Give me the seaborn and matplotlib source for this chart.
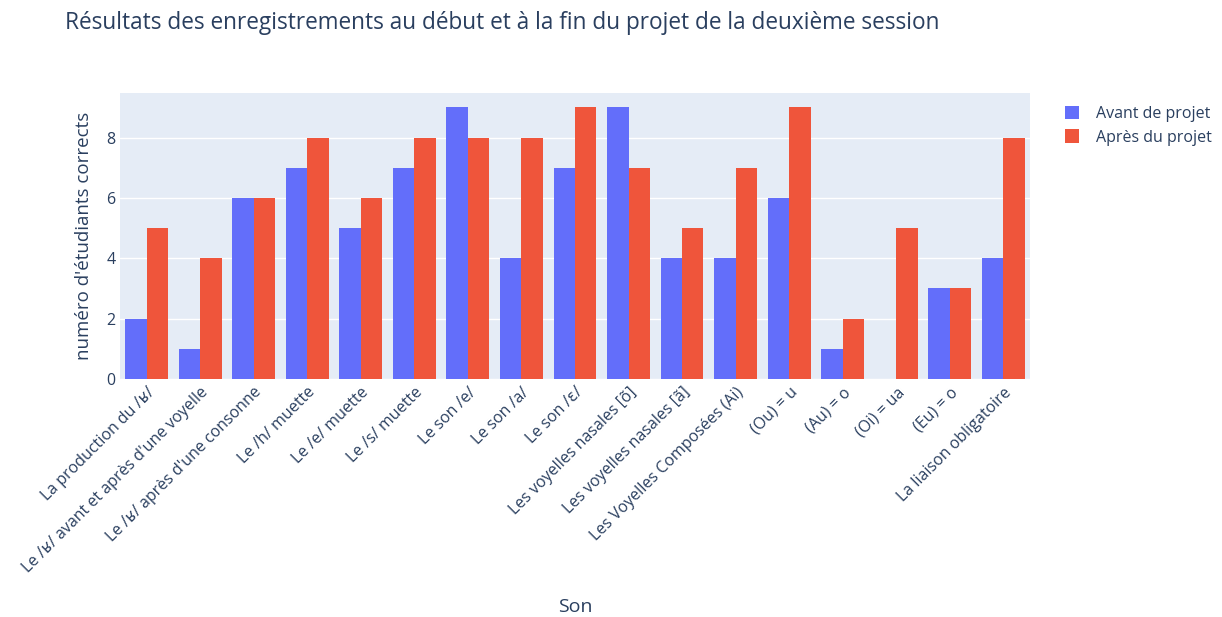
import pandas as pd
import matplotlib
matplotlib.use("Agg")
import matplotlib.pyplot as plt
import seaborn as sns

# Sounds evaluated (x categories)
sons = [
    "La production du /ʁ/",
    "Le /ʁ/ avant et après d'une voyelle",
    "Le /ʁ/ après d'une consonne",
    "Le /h/ muette",
    "Le /e/ muette",
    "Le /s/ muette",
    "Le son /e/",
    "Le son /a/",
    "Le son /ɛ/",
    "Les voyelles nasales [õ]",
    "Les voyelles nasales [ã]",
    "Les Voyelles Composées (Ai)",
    "(Ou) = u",
    "(Au) = o",
    "(Oi) = ua",
    "(Eu) = o",
    "La liaison obligatoire",
]
avant = [2, 1, 6, 7, 5, 7, 9, 4, 7, 9, 4, 4, 6, 1, 0, 3, 4]
apres = [5, 4, 6, 8, 6, 8, 8, 8, 9, 7, 5, 7, 9, 2, 5, 3, 8]
series_names = ["Avant de projet", "Après du projet"]

df = pd.DataFrame({
    "Son": sons * 2,
    "valeur": avant + apres,
    "serie": [series_names[0]] * len(sons) + [series_names[1]] * len(sons),
})

sns.set_theme(style="darkgrid")
text_color = "#2a3f5f"
plt.rcParams["font.family"] = ["Open Sans", "DejaVu Sans"]
plt.rcParams["text.color"] = text_color
plt.rcParams["axes.labelcolor"] = text_color
plt.rcParams["xtick.color"] = text_color
plt.rcParams["ytick.color"] = text_color

fig = plt.figure(figsize=(12.22, 6.17), dpi=100)
ax = fig.add_axes([0.098, 0.386, 0.745, 0.463])
ax.set_facecolor("#E5ECF6")

sns.barplot(data=df, x="Son", y="valeur", hue="serie",
            palette=["#636EFA", "#EF553B"], width=0.8, gap=0,
            saturation=1, ax=ax, edgecolor="none")

ax.set_ylim(0, 9.47)
ax.set_xlim(-0.5, len(sons) - 0.5)
ax.set_yticks([0, 2, 4, 6, 8])
ax.grid(axis="y", color="white", linewidth=1)
ax.grid(axis="x", visible=False)
for s in ax.spines.values():
    s.set_visible(False)
ax.tick_params(axis="both", length=0, labelsize=11.5)
ax.tick_params(axis="y", pad=3)
ax.tick_params(axis="x", pad=4)
plt.setp(ax.get_xticklabels(), rotation=45, ha="right", rotation_mode="anchor")

ax.set_xlabel("Son", fontsize=14)
ax.xaxis.label.set_va("center")
ax.xaxis.set_label_coords(0.5, -0.80)
ax.set_ylabel("numéro d'étudiants corrects", fontsize=13.5, labelpad=10)

fig.text(0.053, 0.962, "Résultats des enregistrements au début et à la fin du projet de la deuxième session",
         fontsize=16.3, ha="left", va="center")

leg = ax.legend(loc="upper left", bbox_to_anchor=(1.022, 1.005), frameon=False,
                fontsize=11.5, handlelength=0.9, handleheight=0.9,
                handletextpad=1.1, labelspacing=0.45)

fig.savefig("out.png", dpi=100, facecolor="white")
